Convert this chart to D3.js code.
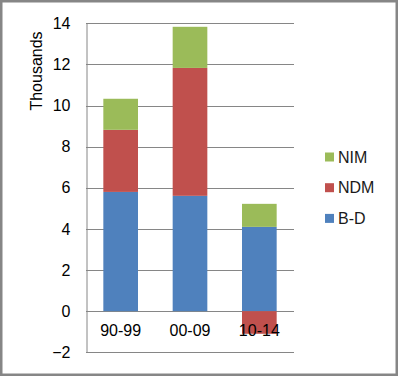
<!DOCTYPE html>
<html>
<head>
<meta charset="utf-8">
<script src="https://cdn.jsdelivr.net/npm/d3@7"></script>
<style>
  body { margin: 0; background: #fff; }
  text { font-family: "Liberation Sans", Arial, sans-serif; }
</style>
</head>
<body>
<div id="chart"></div>
<script>
var categories = ["90-99", "00-09", "10-14"];
var seriesNames = ["B-D", "NDM", "NIM"];
var bdValues = [5.80, 5.61, 4.10];
var ndmValues = [3.02, 6.22, -1.10];
var nimValues = [1.51, 2.00, 1.12];
var yTicks = [-2, 0, 2, 4, 6, 8, 10, 12, 14];
var colors = ["#4F81BD", "#C0504D", "#9BBB59"];

var w = 398;
var h = 376;

var rows = categories.map(function(c, i) {
  return { cat: c, "B-D": bdValues[i], "NDM": ndmValues[i], "NIM": nimValues[i] };
});

var svg = d3.select("#chart")
  .append("svg")
  .attr("width", w)
  .attr("height", h);

// outer frame
svg.append("rect")
  .attr("x", 1.25)
  .attr("y", 1.25)
  .attr("width", w - 2.5)
  .attr("height", h - 2.5)
  .style("fill", "#fff")
  .style("stroke", "#868686")
  .style("stroke-width", 2.5);

var xscale = d3.scaleBand()
  .domain(categories)
  .range([86, 294])
  .paddingInner(0.5)
  .paddingOuter(0.25);

var yscale = d3.scaleLinear()
  .domain([-2, 14])
  .range([352.3, 23.3]);

// gridlines
svg.append("g")
  .selectAll("line")
  .data(yTicks)
  .enter().append("line")
  .attr("x1", 86)
  .attr("x2", 294)
  .attr("y1", function(d) { return Math.round(yscale(d)) + 0.5; })
  .attr("y2", function(d) { return Math.round(yscale(d)) + 0.5; })
  .style("stroke", "#868686")
  .style("stroke-width", 1);

var stack = d3.stack()
  .keys(seriesNames)
  .offset(d3.stackOffsetDiverging);

var layers = stack(rows);

svg.append("g")
  .selectAll("g")
  .data(layers)
  .enter().append("g")
  .style("fill", function(d, i) { return colors[i]; })
  .selectAll("rect")
  .data(function(d) { return d; })
  .enter().append("rect")
  .attr("x", function(d) { return xscale(d.data.cat); })
  .attr("width", xscale.bandwidth())
  .attr("y", function(d) { return yscale(Math.max(d[0], d[1])); })
  .attr("height", function(d) { return Math.abs(yscale(d[0]) - yscale(d[1])); });

// y axis
var yaxis = d3.axisLeft()
  .scale(yscale)
  .tickValues(yTicks)
  .tickSize(0)
  .tickPadding(16);

var yg = svg.append("g")
  .attr("transform", "translate(86.5,0)")
  .call(yaxis);
yg.select(".domain").style("stroke", "#868686");
yg.selectAll("text")
  .style("font-size", "16px")
  .style("fill", "#000");

// x labels
svg.append("g")
  .selectAll("text")
  .data(categories)
  .enter().append("text")
  .attr("x", function(d) { return xscale(d) + xscale.bandwidth() / 2; })
  .attr("y", yscale(0) + 25)
  .attr("text-anchor", "middle")
  .style("font-size", "16px")
  .style("fill", "#000")
  .text(function(d) { return d; });

svg.append("text")
  .attr("transform", "translate(42,71) rotate(-90)")
  .attr("text-anchor", "middle")
  .style("font-size", "16px")
  .style("fill", "#000")
  .text("Thousands");

// legend, reversed order
var legendItems = seriesNames.slice().reverse();
var legend = svg.append("g")
  .selectAll("g")
  .data(legendItems)
  .enter().append("g")
  .attr("transform", function(d, i) { return "translate(325," + (157 + i * 30.7) + ")"; });

legend.append("rect")
  .attr("x", 0)
  .attr("y", -4.5)
  .attr("width", 9)
  .attr("height", 9)
  .style("fill", function(d) { return colors[seriesNames.indexOf(d)]; });

legend.append("text")
  .attr("x", 13)
  .attr("y", 0)
  .attr("dy", "0.36em")
  .style("font-size", "16px")
  .style("fill", "#1a1a1a")
  .text(function(d) { return d; });
</script>
</body>
</html>
